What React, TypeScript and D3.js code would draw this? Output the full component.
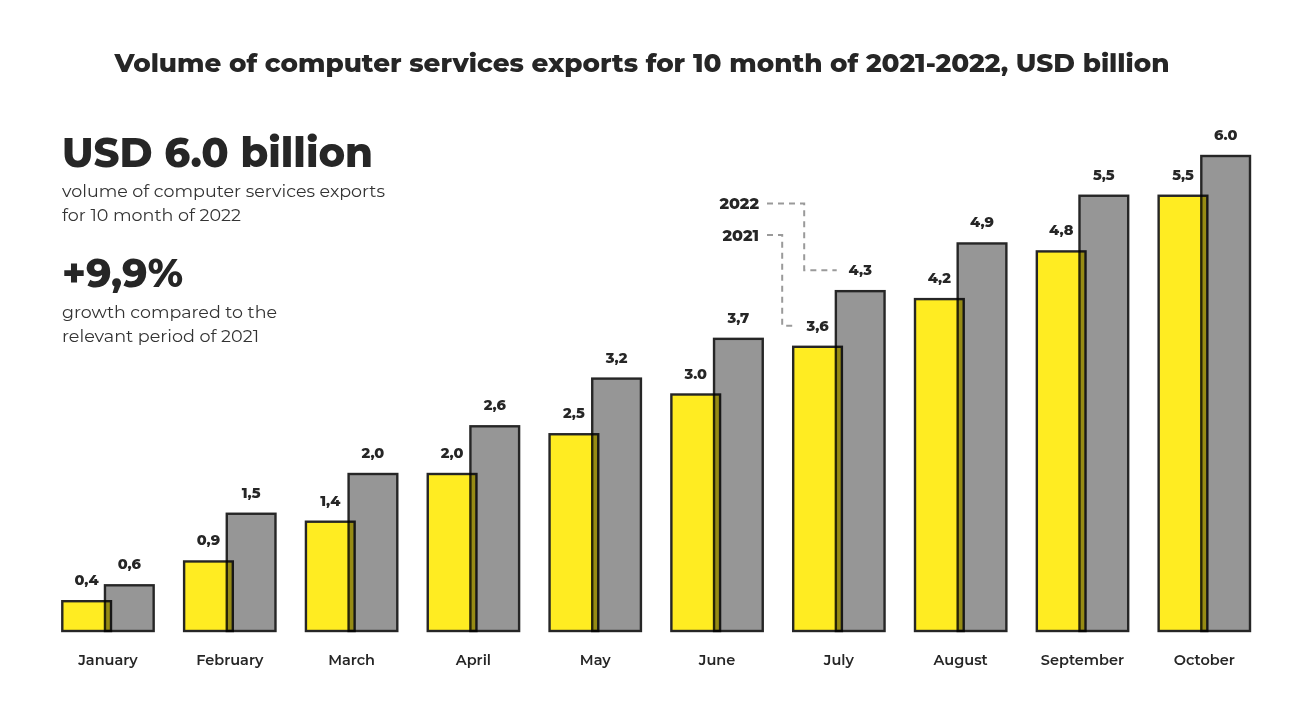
import React from "react";
import * as d3 from "d3";

const months = ["January","February","March","April","May","June","July","August","September","October"];
const values2021 = [0.4, 0.9, 1.4, 2.0, 2.5, 3.0, 3.6, 4.2, 4.8, 5.5];
const values2022 = [0.6, 1.5, 2.0, 2.6, 3.2, 3.7, 4.3, 4.9, 5.5, 6.0];
const labels2021 = ["0,4","0,9","1,4","2,0","2,5","3.0","3,6","4,2","4,8","5,5"];
const labels2022 = ["0,6","1,5","2,0","2,6","3,2","3,7","4,3","4,9","5,5","6.0"];
const legendMonth = "July";

const W = 1300, H = 712;
const FONT = "Montserrat, 'DejaVu Sans', sans-serif";
const DARK = "#262626";
const YELLOW = "#FFEC22";
const GRAY = "#969696";

export default function App() {
  const x = d3.scaleBand<string>().domain(months).range([62.3, 1250]).paddingInner(0.25).paddingOuter(0);
  const y = d3.scaleLinear().domain([0, 6]).range([633, 156]);
  const baseline = 631;
  const bw = x.bandwidth();
  const barW = bw * 0.533;
  const grayOff = bw * 0.467;

  const jx = x(legendMonth)!;
  const ji = months.indexOf(legendMonth);
  const yLab21 = y(values2021[ji]) - 17;
  const yLab22 = y(values2022[ji]) - 17;
  const c21 = jx + barW / 2;
  const c22 = jx + grayOff + barW / 2;

  return (
    <svg width={W} height={H} style={{ position: "absolute", left: 0, top: 0, background: "#fff" }} fontFamily={FONT}>
      <rect x={0} y={0} width={W} height={H} fill="#fff" />
      <text x={642} y={72} textAnchor="middle" fontSize={25} fontWeight={800} fill={DARK} textLength={1055} lengthAdjust="spacingAndGlyphs">
        Volume of computer services exports for 10 month of 2021-2022, USD billion
      </text>

      <text x={62} y={167} fontSize={41} fontWeight={800} fill={DARK} textLength={311} lengthAdjust="spacingAndGlyphs">USD 6.0 billion</text>
      <text x={62} y={197} fontSize={17} fill="#333" textLength={323} lengthAdjust="spacingAndGlyphs">volume of computer services exports</text>
      <text x={62} y={221} fontSize={17} fill="#333" textLength={179} lengthAdjust="spacingAndGlyphs">for 10 month of 2022</text>
      <text x={62} y={287} fontSize={39} fontWeight={800} fill={DARK} textLength={121} lengthAdjust="spacingAndGlyphs">+9,9%</text>
      <text x={62} y={318} fontSize={17} fill="#333" textLength={215} lengthAdjust="spacingAndGlyphs">growth compared to the</text>
      <text x={62} y={342} fontSize={17} fill="#333" textLength={197} lengthAdjust="spacingAndGlyphs">relevant period of 2021</text>

      {months.map((m, i) => {
        const bx = x(m)!;
        return (
          <g key={m}>
            <rect x={bx + grayOff} y={y(values2022[i])} width={barW} height={baseline - y(values2022[i])} fill={GRAY} stroke={DARK} strokeWidth={2.4} />
            <rect x={bx} y={y(values2021[i])} width={barW} height={baseline - y(values2021[i])} fill={YELLOW} stroke={DARK} strokeWidth={2.4} style={{ mixBlendMode: "multiply" }} />
            <text x={bx + barW / 2} y={y(values2021[i]) - 16} textAnchor="middle" fontSize={14.5} fontWeight={800} fill={DARK}>{labels2021[i]}</text>
            <text x={bx + grayOff + barW / 2} y={y(values2022[i]) - 16} textAnchor="middle" fontSize={14.5} fontWeight={800} fill={DARK}>{labels2022[i]}</text>
            <text x={bx + bw / 2} y={665} textAnchor="middle" fontSize={14.5} fontWeight={600} fill={DARK}>{m}</text>
          </g>
        );
      })}

      <text x={759} y={209} textAnchor="end" fontSize={16} fontWeight={800} fill={DARK}>2022</text>
      <text x={759} y={241} textAnchor="end" fontSize={16} fontWeight={800} fill={DARK}>2021</text>
      <path d={`M767,203.5 H${jx + 11} V${yLab22 - 4} H${c22 - 23.5}`} fill="none" stroke="#9a9a9a" strokeWidth={2} strokeDasharray="6 5" />
      <path d={`M767,235 H${jx - 11} V${yLab21 - 4} H${c21 - 22.5}`} fill="none" stroke="#9a9a9a" strokeWidth={2} strokeDasharray="6 5" />
    </svg>
  );
}
